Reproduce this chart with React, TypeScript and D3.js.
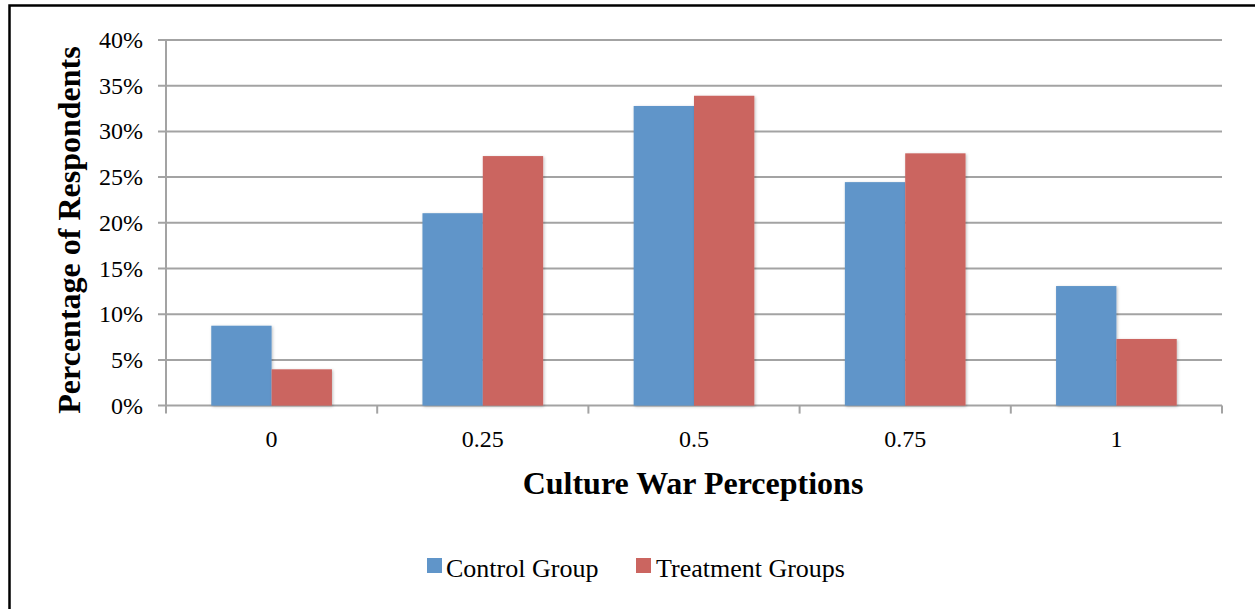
import React from "react";
import * as d3 from "d3";

const categories = ["0", "0.25", "0.5", "0.75", "1"];
const controlValues = [8.74, 21.05, 32.78, 24.45, 13.08];
const treatmentValues = [3.97, 27.3, 33.9, 27.6, 7.29];
const seriesNames = ["Control Group", "Treatment Groups"];
const yTicks = [0, 5, 10, 15, 20, 25, 30, 35, 40];

const W = 1255;
const H = 609;
const plot = { left: 166, right: 1222, top: 40, bottom: 405.6 };
const colors = ["#6095c9", "#cb6560"];
const font = "'Liberation Serif', 'Times New Roman', serif";

export default function App() {
  const x = d3
    .scaleBand<string>()
    .domain(categories)
    .range([plot.left, plot.right])
    .paddingInner(0)
    .paddingOuter(0);
  const y = d3.scaleLinear().domain([0, 40]).range([plot.bottom, plot.top]);
  const bw = x.bandwidth();
  const barW = bw / 3.5;
  const series = [controlValues, treatmentValues];

  return (
    <svg
      width={W}
      height={H}
      style={{ position: "absolute", left: 0, top: 0, background: "#fff" }}
      fontFamily={font}
    >
      <defs>
        <filter id="sh" x="-20%" y="-20%" width="140%" height="140%">
          <feDropShadow dx="1" dy="1" stdDeviation="1.5" floodColor="#000" floodOpacity="0.25" />
        </filter>
      </defs>
      <path d={`M9.5,${H + 5} V5.5 H${W + 5}`} fill="none" stroke="#000" strokeWidth={2.5} />
      {yTicks.map((t) => (
        <g key={t}>
          <line x1={158} x2={plot.right} y1={y(t)} y2={y(t)} stroke="#a3a3a3" strokeWidth={2} />
          <text x={143} y={y(t) + 8} textAnchor="end" fontSize={24} fill="#000">
            {t}%
          </text>
        </g>
      ))}
      <line x1={plot.left} x2={plot.left} y1={plot.top} y2={plot.bottom + 8} stroke="#a3a3a3" strokeWidth={2} />
      {categories.map((c, i) => (
        <line
          key={"t" + i}
          x1={(x(c) as number) + bw}
          x2={(x(c) as number) + bw}
          y1={plot.bottom}
          y2={plot.bottom + 8}
          stroke="#a3a3a3"
          strokeWidth={2}
        />
      ))}
      {categories.map((c, i) => {
        const start = (x(c) as number) + (bw - 2 * barW) / 2;
        return (
          <g key={c}>
            {series.map((s, k) => (
              <rect
                key={k}
                x={start + k * barW}
                y={y(s[i])}
                width={barW}
                height={plot.bottom - y(s[i])}
                fill={colors[k]}
                filter="url(#sh)"
              />
            ))}
            <text
              x={(x(c) as number) + bw / 2}
              y={447}
              textAnchor="middle"
              fontSize={24}
              fill="#000"
            >
              {c}
            </text>
          </g>
        );
      })}
      <text x={693} y={494} textAnchor="middle" fontSize={32} fontWeight="bold" fill="#000">
        Culture War Perceptions
      </text>
      <text
        transform={`translate(80,230) rotate(-90)`}
        textAnchor="middle"
        fontSize={32}
        fontWeight="bold"
        fill="#000"
      >
        Percentage of Respondents
      </text>
      <g>
        <rect x={427} y={558} width={15} height={15} fill={colors[0]} />
        <text x={446} y={577} fontSize={26} fill="#000">
          {seriesNames[0]}
        </text>
        <rect x={636} y={558} width={15} height={15} fill={colors[1]} />
        <text x={656} y={577} fontSize={26} fill="#000">
          {seriesNames[1]}
        </text>
      </g>
    </svg>
  );
}
